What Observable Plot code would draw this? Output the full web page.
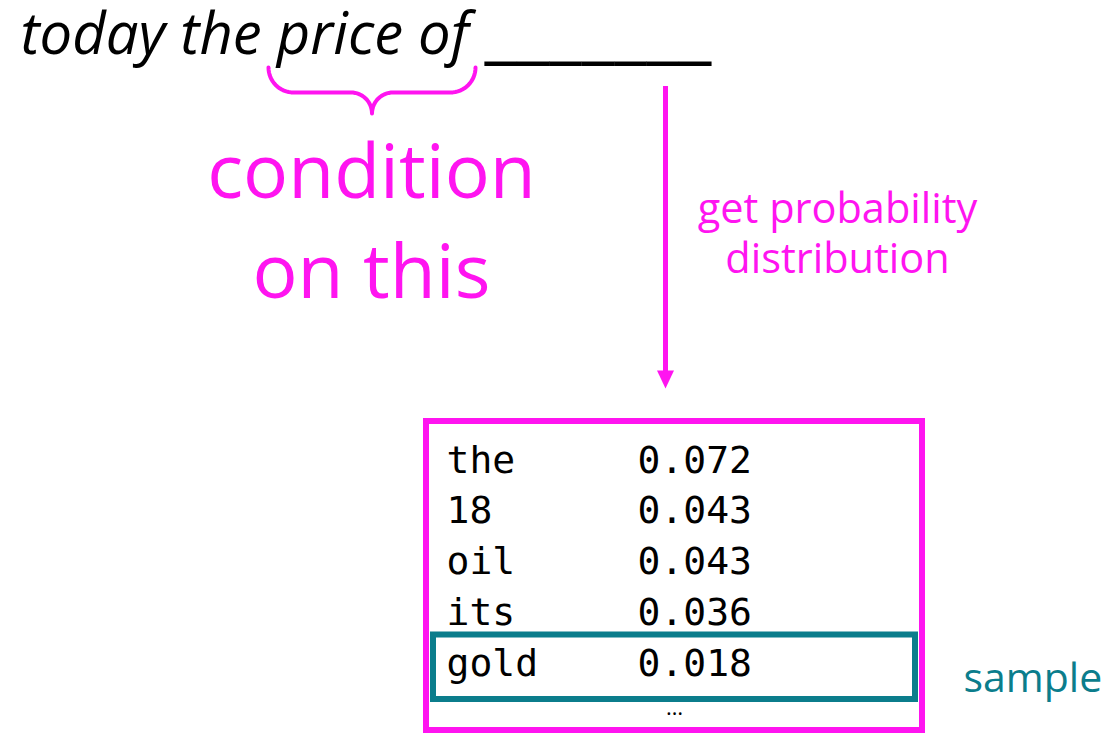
<!DOCTYPE html>
<html>
<head>
<meta charset="utf-8">
<script src="https://cdn.jsdelivr.net/npm/d3@7"></script>
<script src="https://cdn.jsdelivr.net/npm/@observablehq/plot@0.6"></script>
<style>
  html, body { margin: 0; padding: 0; background: #fff; }
  #chart svg { display: block; }
  #chart svg text { font-variant-ligatures: none; }
</style>
</head>
<body>
<div id="chart"></div>
<script>
// ---- content ----
const promptText = "today the price of";
const blankText = "_______";
const conditionLines = ["condition", "on this"];
const arrowLines = ["get probability", "distribution"];
const words = ["the", "18", "oil", "its", "gold"];
const probs = [0.072, 0.043, 0.043, 0.036, 0.018];
const sampledWord = "gold";
const sampleLabel = "sample";
const moreLabel = "…";

// ---- style ----
const magenta = "#ff14f0";
const teal = "#0b7d8c";
const sansFont = "'Open Sans', Lato, sans-serif";
const monoFont = "'DejaVu Sans Mono', 'Liberation Mono', monospace";

// ---- layout (pixel space, identity scales) ----
const W = 1108, H = 733;
const L = {
  prompt: {x: 20, y: 53, size: 58},
  blank: {x: 484, y: 54, size: 74},
  brace: {x0: 268, x1: 475, yTop: 67, yMid: 92, yTip: 113},
  cond: {x: 371, yLast: 297, lineHeight: 100 / 75, size: 75},
  arrow: {x: 665, y0: 86, y1: 388, head: 18, headW: 17},
  arrowText: {x: 837, yLast: 272, lineHeight: 50 / 41.5, size: 41.5},
  box: {x1: 426, x2: 922, y1: 421, y2: 730},
  rows: {xWord: 446, xProb: 637, y0: 472, step: 50.8, size: 38},
  sampleBox: {x1: 433, x2: 915, y1: 634.5, y2: 699},
  more: {x: 674, y: 714, size: 22},
  sample: {x: 963, y: 691, size: 41}
};

// brace path built from quarter arcs
function bracePoints({x0, x1, yTop, yMid, yTip}) {
  const cx = (x0 + x1) / 2;
  const r1 = yMid - yTop, r2 = yTip - yMid;
  const pts = [];
  const arc = (ccx, ccy, rx, ry, a0, a1) => {
    for (let i = 0; i <= 16; i++) {
      const a = a0 + (a1 - a0) * i / 16;
      pts.push({x: ccx + rx * Math.cos(a), y: ccy + ry * Math.sin(a)});
    }
  };
  arc(x0 + r1, yTop, r1, r1, Math.PI, Math.PI / 2);
  arc(cx - r2, yTip, r2, r2, -Math.PI / 2, 0);
  arc(cx + r2, yTip, r2, r2, Math.PI, 3 * Math.PI / 2);
  arc(x1 - r1, yTop, r1, r1, Math.PI / 2, 0);
  return pts;
}
const braceData = bracePoints(L.brace);

const fmt = d3.format(".3f");
const rowData = words.map((w, i) => ({
  word: w,
  prob: fmt(probs[i]),
  y: L.rows.y0 + i * L.rows.step
}));

const headData = [
  {x: L.arrow.x - L.arrow.headW / 2, y: L.arrow.y1 - L.arrow.head},
  {x: L.arrow.x + L.arrow.headW / 2, y: L.arrow.y1 - L.arrow.head},
  {x: L.arrow.x, y: L.arrow.y1},
  {x: L.arrow.x - L.arrow.headW / 2, y: L.arrow.y1 - L.arrow.head}
];

const chart = Plot.plot({
  width: W,
  height: H,
  margin: 0,
  x: {type: "identity", axis: null},
  y: {type: "identity", axis: null},
  style: {background: "#fff", overflow: "visible"},
  marks: [
    Plot.text([promptText], {x: L.prompt.x, y: L.prompt.y, text: d => d, textAnchor: "start", lineAnchor: "bottom",
      fontFamily: sansFont, fontStyle: "italic", fontSize: L.prompt.size, fill: "#000"}),
    Plot.text([blankText], {x: L.blank.x, y: L.blank.y, text: d => d, textAnchor: "start", lineAnchor: "bottom",
      fontFamily: sansFont, fontSize: L.blank.size, fill: "#000"}),
    Plot.line(braceData, {x: "x", y: "y", stroke: magenta, strokeWidth: 4, curve: "linear"}),
    Plot.text([conditionLines.join("\n")], {x: L.cond.x, y: L.cond.yLast, text: d => d,
      textAnchor: "middle", lineAnchor: "bottom", lineHeight: L.cond.lineHeight,
      fontFamily: sansFont, fontSize: L.cond.size, fill: magenta}),
    Plot.ruleX([L.arrow.x], {y1: L.arrow.y0, y2: L.arrow.y1 - L.arrow.head + 1, stroke: magenta, strokeWidth: 5}),
    Plot.line(headData, {x: "x", y: "y", fill: magenta, stroke: "none"}),
    Plot.text([arrowLines.join("\n")], {x: L.arrowText.x, y: L.arrowText.yLast, text: d => d,
      textAnchor: "middle", lineAnchor: "bottom", lineHeight: L.arrowText.lineHeight,
      fontFamily: sansFont, fontSize: L.arrowText.size, fill: magenta}),
    Plot.rect([0], {x1: L.box.x1, x2: L.box.x2, y1: L.box.y1, y2: L.box.y2, fill: "none", stroke: magenta, strokeWidth: 6}),
    Plot.text(rowData, {x: L.rows.xWord, y: "y", text: "word", textAnchor: "start", lineAnchor: "bottom",
      fontFamily: monoFont, fontSize: L.rows.size, fill: "#000"}),
    Plot.text(rowData, {x: L.rows.xProb, y: "y", text: "prob", textAnchor: "start", lineAnchor: "bottom",
      fontFamily: monoFont, fontSize: L.rows.size, fill: "#000"}),
    Plot.text([moreLabel], {x: L.more.x, y: L.more.y, text: d => d, textAnchor: "middle", lineAnchor: "bottom",
      fontFamily: sansFont, fontSize: L.more.size, fill: "#000"}),
    Plot.rect(rowData.filter(d => d.word === sampledWord), {x1: L.sampleBox.x1, x2: L.sampleBox.x2,
      y1: L.sampleBox.y1, y2: L.sampleBox.y2, fill: "none", stroke: teal, strokeWidth: 6}),
    Plot.text([sampleLabel], {x: L.sample.x, y: L.sample.y, text: d => d, textAnchor: "start", lineAnchor: "bottom",
      fontFamily: sansFont, fontSize: L.sample.size, fill: teal})
  ]
});
document.getElementById("chart").appendChild(chart);
</script>
</body>
</html>
